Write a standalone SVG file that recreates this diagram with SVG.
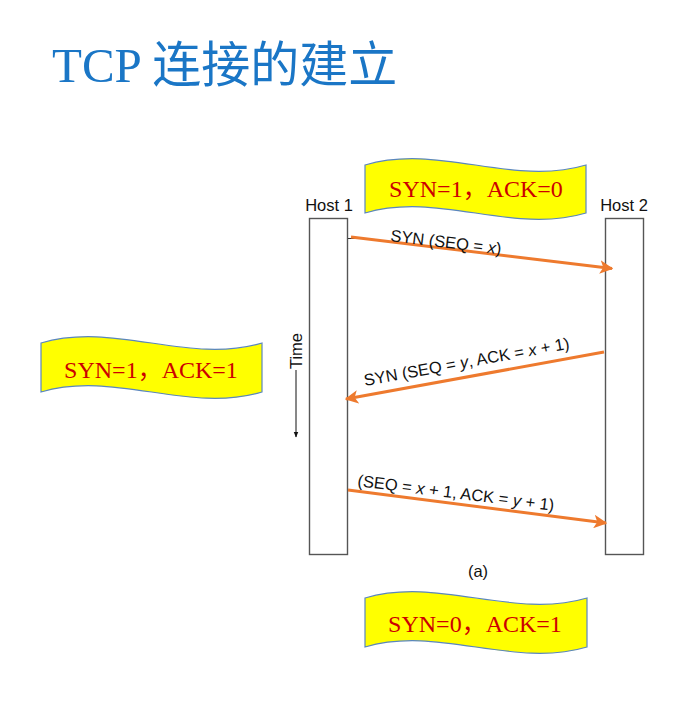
<svg xmlns="http://www.w3.org/2000/svg" width="674" height="703" viewBox="0 0 674 703">
<defs>
<style>
.title{font-family:"Liberation Serif","Noto Sans CJK SC",serif;font-size:49px;fill:#1A76C6}
.cjk{font-family:"Noto Sans CJK SC",sans-serif}
.banner{fill:#FFFF00;stroke:#5A86BE;stroke-width:1.2}
.btxt{font-family:"Liberation Serif","Noto Sans CJK SC",serif;font-size:24px;fill:#CC0000;text-anchor:middle}
.host{fill:#fff;stroke:#555;stroke-width:1.4}
.lbl{font-family:"Liberation Sans",Arial,sans-serif;font-size:16.5px;fill:#111}
.arr{stroke:#EE7A2E;stroke-width:3;fill:none}
</style>
<marker id="oh" viewBox="0 0 10 10" refX="9" refY="5" markerWidth="4.5" markerHeight="4.5" orient="auto" markerUnits="strokeWidth">
<path d="M0,0 L10,5 L0,10 L2.5,5 Z" fill="#EE7A2E"/>
</marker>
<marker id="kh" viewBox="0 0 10 10" refX="9" refY="5" markerWidth="6" markerHeight="6" orient="auto" markerUnits="strokeWidth">
<path d="M0,1 L10,5 L0,9 Z" fill="#111"/>
</marker>
</defs>
<rect width="674" height="703" fill="#fff"/>
<text class="title" x="52" y="82">TCP <tspan class="cjk">连接的建立</tspan></text>

<g id="host1">
<text class="lbl" x="329" y="211" text-anchor="middle">Host 1</text>
<rect class="host" x="309.5" y="218.5" width="38" height="336"/>
</g>
<g id="host2">
<text class="lbl" x="624" y="211" text-anchor="middle">Host 2</text>
<rect class="host" x="605.5" y="218.5" width="38" height="336"/>
</g>
<g id="time">
<text class="lbl" transform="translate(302,351) rotate(-90)" text-anchor="middle">Time</text>
<line x1="296" y1="370" x2="296" y2="437" stroke="#111" stroke-width="1" marker-end="url(#kh)"/>
</g>

<g id="banner1">
<path class="banner" d="M365,165 C439,143 512,187 586,165 L586,213 C512,235 439,191 365,213 Z"/>
<text class="btxt" x="476" y="197">SYN=1，ACK=0</text>
</g>
<g id="banner2">
<path class="banner" d="M41,343 C115,321 188,365 262,343 L262,392 C188,414 115,370 41,392 Z"/>
<text class="btxt" x="151" y="378">SYN=1，ACK=1</text>
</g>
<g id="banner3">
<path class="banner" d="M365,598 C439,576 513,620 587,598 L587,647 C513,669 439,625 365,647 Z"/>
<text class="btxt" x="475" y="632">SYN=0，ACK=1</text>
</g>

<g id="connectors">
<line x1="348" y1="238.5" x2="356" y2="238.5" stroke="#333" stroke-width="1"/>
<line class="arr" x1="351" y1="237" x2="612" y2="268.5" marker-end="url(#oh)"/>
<line class="arr" x1="604" y1="352" x2="346" y2="399" marker-end="url(#oh)"/>
<line class="arr" x1="348" y1="490" x2="606" y2="523" marker-end="url(#oh)"/>
<text class="lbl" transform="translate(390,241) rotate(6.9)">SYN (SEQ = <tspan font-style="italic">x</tspan>)</text>
<text class="lbl" transform="translate(365,386) rotate(-10.3)">SYN (SEQ = <tspan font-style="italic">y</tspan>, ACK = <tspan font-style="italic">x</tspan> + 1)</text>
<text class="lbl" transform="translate(357,486) rotate(7.2)">(SEQ = <tspan font-style="italic">x</tspan> + 1, ACK = <tspan font-style="italic">y</tspan> + 1)</text>
</g>
<text class="lbl" x="478" y="577" text-anchor="middle">(a)</text>
</svg>
